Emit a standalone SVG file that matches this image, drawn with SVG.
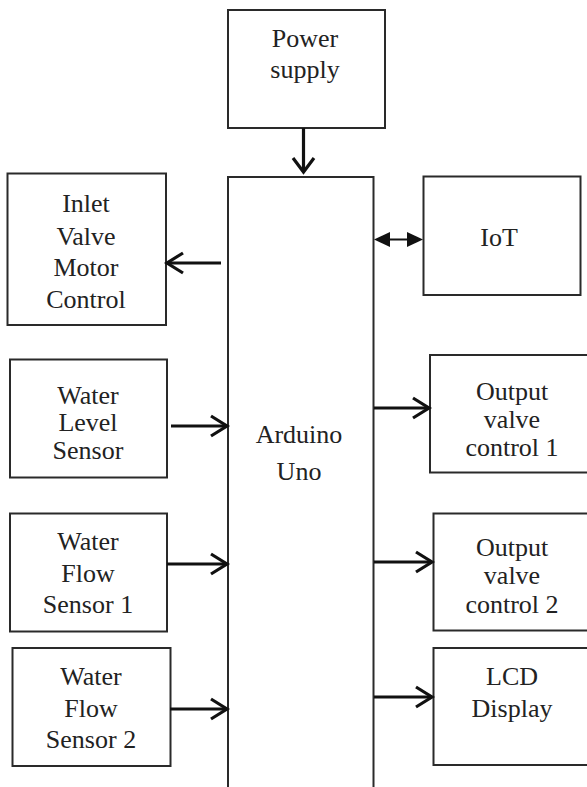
<svg xmlns="http://www.w3.org/2000/svg" width="587" height="787" viewBox="0 0 587 787">
<style>
.box{fill:#fff;stroke:#2a2a2a;stroke-width:2}
.t{font-family:"Liberation Serif","Times New Roman",serif;font-size:26px;fill:#222;text-anchor:middle}
.ln{stroke:#111;stroke-width:3.2;fill:none}
.hd{stroke:#111;stroke-width:3.2;fill:none;stroke-linejoin:miter}
.dl{stroke:#111;stroke-width:2;fill:none}
.fh{fill:#111;stroke:none}
</style>
<rect width="587" height="787" fill="#fff"/>
<g id="power">
<rect class="box" x="228" y="10" width="157" height="118"/>
<text class="t" x="305" y="47">Power</text>
<text class="t" x="305" y="78">supply</text>
</g>
<g id="arduino">
<rect class="box" x="228" y="177" width="145.5" height="640"/>
<text class="t" x="299" y="443">Arduino</text>
<text class="t" x="299" y="480">Uno</text>
</g>
<g id="inlet">
<rect class="box" x="7.5" y="173.5" width="158.5" height="151.5"/>
<text class="t" x="86" y="212">Inlet</text>
<text class="t" x="86" y="245">Valve</text>
<text class="t" x="86" y="276">Motor</text>
<text class="t" x="86" y="308">Control</text>
</g>
<g id="iot">
<rect class="box" x="423.5" y="176.5" width="157" height="118.5"/>
<text class="t" x="499" y="246">IoT</text>
</g>
<g id="waterlevel">
<rect class="box" x="10" y="359.5" width="157" height="118"/>
<text class="t" x="88" y="404">Water</text>
<text class="t" x="88" y="431">Level</text>
<text class="t" x="88" y="459">Sensor</text>
</g>
<g id="output1">
<rect class="box" x="430" y="355" width="170" height="117.5"/>
<text class="t" x="512" y="400">Output</text>
<text class="t" x="512" y="428">valve</text>
<text class="t" x="512" y="456">control 1</text>
</g>
<g id="flow1">
<rect class="box" x="10" y="513.5" width="157" height="118"/>
<text class="t" x="88" y="550">Water</text>
<text class="t" x="88" y="582">Flow</text>
<text class="t" x="88" y="613">Sensor 1</text>
</g>
<g id="output2">
<rect class="box" x="433.5" y="513.5" width="170" height="117"/>
<text class="t" x="512" y="556">Output</text>
<text class="t" x="512" y="584">valve</text>
<text class="t" x="512" y="613">control 2</text>
</g>
<g id="flow2">
<rect class="box" x="12.5" y="648" width="158" height="118"/>
<text class="t" x="91" y="685">Water</text>
<text class="t" x="91" y="717">Flow</text>
<text class="t" x="91" y="748">Sensor 2</text>
</g>
<g id="lcd">
<rect class="box" x="433.5" y="648" width="170" height="117"/>
<text class="t" x="512" y="685">LCD</text>
<text class="t" x="512" y="717">Display</text>
</g>
<g id="connectors">
<line class="ln" x1="303.5" y1="128" x2="303.5" y2="172"/>
<polyline class="hd" points="293,158 303.5,172 314,158"/>
<line class="ln" x1="221" y1="263" x2="168" y2="263"/>
<polyline class="hd" points="183,253 167,263 183,273"/>
<line class="dl" x1="380" y1="239.5" x2="417" y2="239.5"/>
<polygon class="fh" points="374,239.5 390,232 390,247"/>
<polygon class="fh" points="423,239.5 407,232 407,247"/>
<line class="ln" x1="171" y1="426" x2="226" y2="426"/>
<polyline class="hd" points="211,416 227,426 211,436"/>
<line class="ln" x1="167" y1="564" x2="226" y2="564"/>
<polyline class="hd" points="211,554 227,564 211,574"/>
<line class="ln" x1="170" y1="709" x2="226" y2="709"/>
<polyline class="hd" points="211,699 227,709 211,719"/>
<line class="ln" x1="374" y1="408" x2="428" y2="408"/>
<polyline class="hd" points="413,398 429,408 413,418"/>
<line class="ln" x1="374" y1="562" x2="431" y2="562"/>
<polyline class="hd" points="416,552 432,562 416,572"/>
<line class="ln" x1="374" y1="697" x2="431" y2="697"/>
<polyline class="hd" points="416,687 432,697 416,707"/>
</g>
</svg>
